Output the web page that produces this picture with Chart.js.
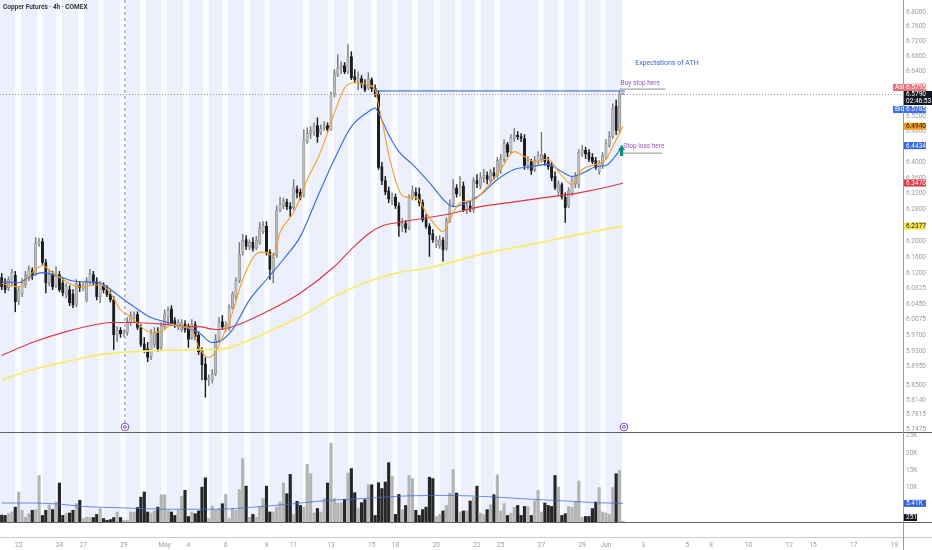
<!DOCTYPE html>
<html>
<head>
<meta charset="utf-8">
<title>Copper Futures 4h</title>
<script src="https://cdn.jsdelivr.net/npm/chart.js@4.4.1/dist/chart.umd.min.js"></script>
<style>
  html, body { margin: 0; padding: 0; background: #fff; }
  canvas { display: block; }
</style>
</head>
<body>
<canvas id="chart" width="932" height="550"></canvas>
<script>
// 4h candles, one per slot (slot = bar index on the time axis)
const opens = [
  6.110, 6.097, 6.085, 6.097, 6.115, 6.050, 6.070, 6.092, 6.107, 6.127,
  6.120, 6.194, 6.199, 6.147, 6.097, 6.117, 6.090, 6.117, 6.097, 6.068,
  6.080, 6.070, 6.043, 6.092, 6.082, 6.055, 6.097, 6.117, 6.100, 6.063,
  6.090, 6.082, 6.070, 6.055, 5.971, 5.981, 5.973, 5.976, 6.000, 6.014,
  6.019, 5.988, 5.949, 5.937, 5.918, 5.947, 5.978, 5.940, 5.990, 6.014,
  6.033, 6.005, 5.990, 5.983, 5.997, 5.988, 5.964, 5.995, 5.969, 5.933,
  5.901, 5.863, 5.863, 5.877, 5.959, 6.002, 5.988, 5.985, 6.036, 6.063,
  6.102, 6.170, 6.204, 6.187, 6.197, 6.184, 6.197, 6.224, 6.237, 6.172,
  6.125, 6.165, 6.279, 6.289, 6.299, 6.287, 6.284, 6.332, 6.324, 6.317,
  6.454, 6.475, 6.478, 6.496, 6.478, 6.490, 6.496, 6.485, 6.577, 6.630,
  6.649, 6.655, 6.638, 6.679, 6.625, 6.614, 6.620, 6.606, 6.595, 6.617,
  6.595, 6.579, 6.389, 6.353, 6.327, 6.302, 6.311, 6.289, 6.237, 6.244,
  6.234, 6.309, 6.324, 6.319, 6.297, 6.257, 6.237, 6.219, 6.192, 6.189,
  6.202, 6.182, 6.252, 6.294, 6.335, 6.319, 6.340, 6.279, 6.289, 6.279,
  6.353, 6.340, 6.361, 6.366, 6.353, 6.374, 6.366, 6.382, 6.408, 6.446,
  6.428, 6.462, 6.470, 6.467, 6.462, 6.392, 6.402, 6.382, 6.402, 6.408,
  6.418, 6.402, 6.389, 6.364, 6.324, 6.343, 6.311, 6.289, 6.322, 6.345,
  6.343, 6.423, 6.431, 6.426, 6.413, 6.405, 6.376, 6.392, 6.413, 6.444,
  6.467, 6.547, 6.483, 6.579
];
const highs = [
  6.120, 6.107, 6.112, 6.130, 6.125, 6.087, 6.107, 6.125, 6.139, 6.134,
  6.209, 6.207, 6.207, 6.155, 6.130, 6.125, 6.137, 6.125, 6.107, 6.095,
  6.090, 6.080, 6.105, 6.100, 6.097, 6.110, 6.130, 6.125, 6.110, 6.100,
  6.097, 6.090, 6.077, 6.063, 5.990, 5.988, 5.983, 6.012, 6.026, 6.026,
  6.026, 5.995, 5.964, 5.952, 5.983, 5.988, 5.988, 6.000, 6.031, 6.038,
  6.041, 6.012, 6.007, 6.007, 6.005, 5.997, 6.007, 6.002, 5.978, 5.940,
  5.916, 5.875, 5.887, 5.971, 6.012, 6.017, 6.002, 6.043, 6.075, 6.110,
  6.197, 6.217, 6.214, 6.204, 6.209, 6.212, 6.247, 6.249, 6.249, 6.179,
  6.170, 6.289, 6.311, 6.309, 6.306, 6.297, 6.356, 6.340, 6.332, 6.485,
  6.490, 6.493, 6.503, 6.516, 6.498, 6.506, 6.503, 6.585, 6.644, 6.684,
  6.665, 6.663, 6.711, 6.692, 6.644, 6.638, 6.628, 6.617, 6.636, 6.622,
  6.603, 6.587, 6.400, 6.364, 6.337, 6.322, 6.319, 6.297, 6.257, 6.252,
  6.317, 6.340, 6.335, 6.335, 6.304, 6.267, 6.244, 6.229, 6.212, 6.214,
  6.209, 6.259, 6.304, 6.356, 6.343, 6.364, 6.350, 6.297, 6.302, 6.361,
  6.369, 6.374, 6.382, 6.376, 6.382, 6.387, 6.413, 6.421, 6.459, 6.452,
  6.472, 6.488, 6.480, 6.475, 6.472, 6.415, 6.408, 6.415, 6.428, 6.478,
  6.423, 6.413, 6.400, 6.376, 6.353, 6.348, 6.322, 6.335, 6.361, 6.374,
  6.433, 6.444, 6.439, 6.433, 6.423, 6.413, 6.405, 6.426, 6.459, 6.480,
  6.553, 6.563, 6.585, 6.582
];
const lows = [
  6.080, 6.072, 6.077, 6.090, 6.026, 6.043, 6.063, 6.085, 6.102, 6.105,
  6.115, 6.187, 6.142, 6.072, 6.090, 6.080, 6.085, 6.075, 6.065, 6.060,
  6.041, 6.036, 6.038, 6.075, 6.077, 6.050, 6.092, 6.092, 6.055, 6.048,
  6.072, 6.063, 6.050, 5.935, 5.954, 5.964, 5.966, 5.969, 5.993, 6.002,
  5.983, 5.942, 5.928, 5.906, 5.911, 5.940, 5.930, 5.935, 5.985, 5.995,
  5.993, 5.988, 5.983, 5.978, 5.976, 5.940, 5.959, 5.959, 5.923, 5.863,
  5.822, 5.849, 5.856, 5.873, 5.954, 5.983, 5.978, 5.981, 6.033, 6.055,
  6.097, 6.165, 6.179, 6.179, 6.175, 6.179, 6.192, 6.219, 6.165, 6.105,
  6.097, 6.160, 6.274, 6.282, 6.279, 6.262, 6.279, 6.309, 6.304, 6.311,
  6.449, 6.462, 6.470, 6.452, 6.472, 6.483, 6.480, 6.483, 6.571, 6.625,
  6.633, 6.633, 6.633, 6.617, 6.609, 6.590, 6.595, 6.585, 6.590, 6.585,
  6.571, 6.382, 6.343, 6.317, 6.297, 6.292, 6.282, 6.212, 6.224, 6.222,
  6.229, 6.304, 6.304, 6.289, 6.249, 6.232, 6.162, 6.197, 6.184, 6.182,
  6.150, 6.177, 6.247, 6.289, 6.311, 6.314, 6.274, 6.269, 6.274, 6.272,
  6.335, 6.332, 6.348, 6.345, 6.348, 6.356, 6.361, 6.371, 6.402, 6.415,
  6.423, 6.454, 6.459, 6.454, 6.382, 6.382, 6.369, 6.376, 6.395, 6.400,
  6.392, 6.382, 6.353, 6.330, 6.317, 6.306, 6.247, 6.284, 6.314, 6.335,
  6.335, 6.415, 6.410, 6.402, 6.397, 6.382, 6.369, 6.384, 6.408, 6.439,
  6.462, 6.472, 6.475, 6.577
];
const closes = [
  6.087, 6.080, 6.105, 6.122, 6.050, 6.080, 6.097, 6.115, 6.130, 6.115,
  6.194, 6.199, 6.147, 6.097, 6.120, 6.087, 6.120, 6.080, 6.072, 6.087,
  6.048, 6.043, 6.095, 6.085, 6.092, 6.102, 6.120, 6.100, 6.063, 6.092,
  6.080, 6.068, 6.055, 5.971, 5.981, 5.973, 5.978, 6.002, 6.017, 6.019,
  5.988, 5.947, 5.935, 5.916, 5.973, 5.976, 5.937, 5.993, 6.021, 6.029,
  5.997, 5.995, 6.000, 6.000, 5.983, 5.959, 5.995, 5.966, 5.930, 5.899,
  5.863, 5.868, 5.877, 5.959, 6.000, 5.990, 5.993, 6.036, 6.070, 6.102,
  6.167, 6.202, 6.187, 6.197, 6.182, 6.202, 6.234, 6.239, 6.172, 6.130,
  6.160, 6.277, 6.292, 6.302, 6.287, 6.282, 6.335, 6.322, 6.311, 6.457,
  6.475, 6.483, 6.493, 6.467, 6.488, 6.496, 6.485, 6.577, 6.633, 6.649,
  6.655, 6.638, 6.676, 6.622, 6.617, 6.620, 6.606, 6.590, 6.620, 6.593,
  6.579, 6.387, 6.353, 6.324, 6.306, 6.311, 6.289, 6.239, 6.244, 6.232,
  6.309, 6.327, 6.314, 6.297, 6.254, 6.237, 6.217, 6.204, 6.202, 6.204,
  6.179, 6.252, 6.294, 6.335, 6.319, 6.335, 6.279, 6.289, 6.282, 6.353,
  6.345, 6.361, 6.366, 6.356, 6.374, 6.366, 6.405, 6.408, 6.449, 6.426,
  6.465, 6.470, 6.467, 6.462, 6.392, 6.405, 6.379, 6.405, 6.418, 6.421,
  6.402, 6.389, 6.361, 6.335, 6.345, 6.311, 6.284, 6.327, 6.353, 6.366,
  6.426, 6.431, 6.421, 6.408, 6.402, 6.387, 6.397, 6.418, 6.449, 6.467,
  6.542, 6.483, 6.579, 6.579
];
// volume in thousands of contracts
const volumes = [
  2.0, 1.9, 2.4, 2.9, 4.3, 8.7, 3.4, 1.4, 2.4, 3.4,
  3.6, 13.5, 1.9, 3.4, 5.0, 3.6, 5.8, 11.3, 1.9, 2.4,
  2.6, 3.4, 5.3, 6.3, 1.0, 1.4, 1.3, 1.3, 2.2, 3.9,
  1.0, 0.5, 0.7, 1.3, 2.9, 1.3, 0.5, 0.5, 2.9, 2.9,
  4.2, 7.2, 8.7, 2.9, 2.6, 3.2, 4.3, 7.9, 7.9, 3.4,
  2.9, 1.9, 3.4, 7.4, 9.2, 1.6, 2.9, 2.4, 3.2, 10.1,
  12.8, 1.0, 4.6, 3.4, 3.9, 5.3, 8.0, 1.0, 3.9, 3.4,
  9.4, 18.4, 10.4, 1.4, 2.2, 1.4, 4.3, 6.8, 10.4, 2.9,
  2.9, 4.3, 5.8, 11.3, 8.2, 13.8, 2.2, 6.0, 4.8, 4.3,
  16.7, 14.0, 2.6, 3.9, 2.9, 6.8, 11.3, 22.9, 6.8, 5.5,
  5.6, 6.6, 14.2, 15.5, 8.5, 3.9, 5.6, 6.5, 10.8, 10.8,
  1.9, 11.4, 9.7, 11.6, 17.2, 13.2, 2.2, 8.0, 3.6, 4.8,
  13.5, 12.6, 3.4, 1.9, 3.6, 4.3, 13.0, 12.6, 1.6, 2.2,
  3.2, 4.8, 8.4, 15.2, 8.4, 2.9, 3.2, 3.2, 6.1, 7.1,
  10.4, 2.6, 2.2, 3.6, 5.0, 7.9, 13.7, 3.2, 5.3, 1.9,
  2.6, 4.3, 4.8, 1.9, 4.5, 4.5, 1.9, 6.1, 9.2, 2.9,
  5.5, 4.8, 4.5, 13.5, 10.1, 1.9, 2.4, 4.5, 4.3, 5.8,
  11.9, 1.4, 1.6, 1.6, 3.9, 5.8, 10.0, 2.9, 2.6, 2.2,
  10.0, 14.0, 15.0, 0.251
];

// moving averages at sample bars
const fastIdx = [0, 5, 9, 12, 15, 19, 23, 29, 32, 35, 38, 41, 44, 47, 50, 53, 56, 58, 61, 63,
  66, 68, 71, 76, 78, 80, 82, 86, 88, 90, 93, 95, 98, 101, 104, 108, 110, 111, 112, 114,
  117, 119, 122, 125, 128, 130, 132, 135, 139, 143, 147, 151, 154, 157, 161, 164, 167, 168, 171, 175,
  178, 180, 183];
const fastVals = [6.095, 6.087, 6.122, 6.139, 6.122, 6.100, 6.087, 6.092, 6.072, 6.031,
  6.014, 5.990, 5.976, 5.978, 5.995, 5.990, 5.983, 5.942, 5.916, 5.930,
  5.983, 6.024, 6.105, 6.172, 6.172, 6.162, 6.222, 6.272, 6.311, 6.356,
  6.408, 6.452, 6.529, 6.595, 6.609, 6.603, 6.590, 6.550, 6.511, 6.421,
  6.330, 6.311, 6.311, 6.272, 6.237, 6.224, 6.254, 6.297, 6.304, 6.337,
  6.382, 6.428, 6.415, 6.402, 6.408, 6.376, 6.348, 6.343, 6.382, 6.395,
  6.408, 6.441, 6.494];
const midIdx = [0, 5, 8, 12, 17, 22, 29, 31, 34, 39, 44, 49, 53, 58, 62, 64, 68, 73, 78, 83,
  88, 93, 98, 103, 108, 110, 111, 114, 117, 121, 126, 131, 133, 137, 141, 146, 151, 156, 161, 165,
  168, 172, 175, 178, 180, 183];
const midVals = [6.100, 6.097, 6.110, 6.122, 6.112, 6.100, 6.097, 6.087, 6.068, 6.038,
  6.012, 6.000, 5.990, 5.976, 5.952, 5.954, 5.983, 6.055, 6.105, 6.155,
  6.212, 6.311, 6.408, 6.493, 6.532, 6.542, 6.529, 6.472, 6.428, 6.395,
  6.348, 6.297, 6.287, 6.297, 6.317, 6.356, 6.382, 6.389, 6.395, 6.376,
  6.364, 6.376, 6.389, 6.392, 6.408, 6.4434];
const slowIdx = [0, 9, 19, 29, 32, 39, 49, 55, 58, 63, 68, 78, 88, 98, 103, 108, 112, 117, 121, 131,
  141, 151, 161, 170, 180, 183];
const slowVals = [5.921, 5.952, 5.978, 5.997, 6.000, 6.000, 5.995, 5.990, 5.990, 5.983,
  5.990, 6.026, 6.072, 6.137, 6.180, 6.218, 6.238, 6.247, 6.253, 6.267,
  6.287, 6.299, 6.311, 6.322, 6.340, 6.347];
const longIdx = [0, 9, 19, 29, 39, 49, 58, 63, 68, 78, 88, 98, 108, 117, 126, 141, 156, 170, 183];
const longVals = [5.863, 5.887, 5.906, 5.923, 5.930, 5.933, 5.935, 5.935, 5.942, 5.976,
  6.014, 6.063, 6.100, 6.122, 6.134, 6.167, 6.192, 6.217, 6.2377];
const volAvgIdx = [0, 10, 18, 24, 36, 48, 60, 67, 74, 84, 93, 102, 108, 120, 132, 144, 156, 168, 175, 183];
const volAvgVals = [5.5, 5.5, 5.1, 4.5, 4.1, 3.7, 3.7, 3.8, 4.3, 5.1, 6.0, 6.6, 6.9, 7.6, 7.7, 7.3, 6.6, 6.0, 5.6, 5.41];

// axes
const totalSlots = 266;
const priceTicks = [6.8, 6.76, 6.72, 6.68, 6.64, 6.6, 6.56, 6.52, 6.48, 6.44, 6.4, 6.36, 6.32, 6.28,
  6.24, 6.2, 6.16, 6.12, 6.0825, 6.045, 6.0075, 5.97, 5.93, 5.895, 5.85, 5.814, 5.7815, 5.7475];
const volumeTicks = [10, 15, 20, 25];
const dateLabels = ['22', '24', '27', '29', 'May', '4', '6', '8', '11', '13', '15', '18', '20',
  '22', '25', '27', '29', 'Jun', '3', '5', '8', '10', '12', '15', '17', '19'];
const dateSlots = [5, 17, 24, 36, 48, 55, 66, 78, 86, 97, 109, 116, 128,
  140, 147, 159, 171, 178, 189, 202, 209, 220, 232, 239, 251, 263];
const sessionBreaks = [4.8, 11.3, 16.9, 23.4, 29.2, 35.7, 41.6, 47.8, 54.3, 60.2, 65.8, 72.3, 78.1,
  89.6, 97, 102.9, 109.7, 115.8, 121.7, 128.2, 134.4, 140.3, 145.9, 158.9, 164.7, 170.9, 177.1];

const askPrice = 6.5795, bidPrice = 6.5785, countdown = '02:46:53';
const lastPrice = closes[closes.length - 1];
const buyStop = 6.587;

const UP = '#bcbcbc', UP_EDGE = '#7c7c7c', DOWN = '#1d1d1d';
const isUp = i => closes[i] >= opens[i];
const pts = (idx, vals) => idx.map((x, k) => ({ x, y: vals[k] }));

const sessionShade = {
  id: 'sessionShade',
  beforeDatasetsDraw(chart) {
    const { ctx, chartArea: a, scales: { x } } = chart;
    const l = x.getPixelForValue(-0.5), r = x.getPixelForValue(closes.length - 1.3);
    ctx.save();
    ctx.fillStyle = '#ebf0fc';
    ctx.fillRect(l, a.top, r - l, a.bottom - a.top);
    ctx.fillStyle = '#fbfcff';
    sessionBreaks.forEach(s => {
      const p = x.getPixelForValue(s);
      ctx.fillRect(p - 3, a.top, 6, a.bottom - a.top);
    });
    ctx.restore();
  }
};

function tag(ctx, xl, yc, w, h, bg, fg, text) {
  ctx.fillStyle = bg;
  ctx.fillRect(xl, yc - h / 2, w, h);
  ctx.fillStyle = fg;
  ctx.fillText(text, xl + 2, yc + 0.3);
}

const overlay = {
  id: 'overlay',
  afterDraw(chart) {
    const { ctx, scales: { x, y, yv } } = chart;
    const W = chart.width, H = chart.height;
    const axisX = Math.round(y.left) + 0.5;
    ctx.save();
    ctx.lineWidth = 1;

    const seg = (x0, y0, x1, y1, color, dash) => {
      ctx.strokeStyle = color;
      ctx.setLineDash(dash || []);
      ctx.beginPath(); ctx.moveTo(x0, y0); ctx.lineTo(x1, y1); ctx.stroke();
    };

    // pane borders
    seg(0, Math.round(y.bottom) + 0.5, W, Math.round(y.bottom) + 0.5, '#5d606b');
    seg(0, Math.round(yv.bottom) + 0.5, W, Math.round(yv.bottom) + 0.5, '#5d606b');
    seg(0, Math.round(yv.bottom) + 15.5, W, Math.round(yv.bottom) + 15.5, '#c9cbd1');
    seg(axisX, 0, axisX, H, '#9598a1');

    // last price dotted line
    const yLast = Math.round(y.getPixelForValue(lastPrice)) + 0.5;
    seg(0, yLast, axisX, yLast, '#9598a1', [1, 2]);

    // session marker
    const xm = x.getPixelForValue(36.3);
    seg(xm, 0, xm, y.bottom - 9, '#7e7fc6', [3, 3]);
    ctx.setLineDash([]);
    [36.3, 183.3].forEach(s => {
      const cx = x.getPixelForValue(s), cy = y.bottom - 5;
      ctx.fillStyle = '#ffffff';
      ctx.strokeStyle = '#7b4fd8';
      ctx.beginPath(); ctx.arc(cx, cy, 3.8, 0, Math.PI * 2); ctx.fill(); ctx.stroke();
      ctx.beginPath(); ctx.arc(cx, cy, 1.4, 0, Math.PI * 2); ctx.stroke();
    });

    // buy stop level
    const yBuy = y.getPixelForValue(buyStop);
    seg(x.getPixelForValue(110.3), yBuy, x.getPixelForValue(183.6), yBuy, '#2f5fe0');
    const yBuyTxt = y.getPixelForValue(6.592);
    seg(x.getPixelForValue(182), yBuyTxt, x.getPixelForValue(195.5), yBuyTxt, '#8c8f99');
    const yStop = y.getPixelForValue(6.424);
    seg(x.getPixelForValue(182.3), yStop, x.getPixelForValue(194.5), yStop, '#8c8f99');

    ctx.textBaseline = 'middle';
    ctx.textAlign = 'left';
    ctx.font = '6.5px Roboto';
    ctx.fillStyle = '#9c4fc9';
    ctx.fillText('Buy stop here', x.getPixelForValue(182.3), y.getPixelForValue(6.607));
    ctx.fillText('Stop loss here', x.getPixelForValue(183.1), y.getPixelForValue(6.441));
    ctx.font = '7px Roboto';
    ctx.fillStyle = '#3d67d6';
    ctx.fillText('Expectations of ATH', x.getPixelForValue(186.6), y.getPixelForValue(6.660));

    // green arrow
    const ax = x.getPixelForValue(182.6), ay = y.getPixelForValue(6.445);
    ctx.fillStyle = '#0e8f7a';
    ctx.beginPath();
    ctx.moveTo(ax, ay); ctx.lineTo(ax + 3.5, ay + 5); ctx.lineTo(ax + 1.6, ay + 5);
    ctx.lineTo(ax + 1.6, ay + 11); ctx.lineTo(ax - 1.6, ay + 11); ctx.lineTo(ax - 1.6, ay + 5);
    ctx.lineTo(ax - 3.5, ay + 5); ctx.closePath(); ctx.fill();

    // title
    ctx.font = '600 6.5px Roboto';
    ctx.fillStyle = '#2a2e39';
    ctx.fillText('Copper Futures · 4h · COMEX', 3, 7.5);

    // price scale tags
    ctx.font = '6.5px Roboto';
    const xl = axisX + 0.5;
    tag(ctx, xl - 11, yLast - 7, 10, 7, '#f0707a', '#fff', 'Ask');
    tag(ctx, xl, yLast - 7, 22, 7, '#f0707a', '#fff', askPrice.toFixed(4));
    ctx.fillStyle = '#131722';
    ctx.fillRect(xl, yLast - 3.5, W - xl, 14);
    ctx.fillStyle = '#fff';
    ctx.fillText(lastPrice.toFixed(4), xl + 2, yLast);
    ctx.fillText(countdown, xl + 2, yLast + 6.8);
    tag(ctx, xl - 11, yLast + 15, 10, 7, '#3d6ef0', '#fff', 'Bid');
    tag(ctx, xl, yLast + 15, 22, 7, '#3d6ef0', '#fff', bidPrice.toFixed(4));
    const maTags = [
      [fastVals, '#f59d17', '#131722'],
      [midVals, '#2f62e8', '#fff'],
      [slowVals, '#e2333f', '#fff'],
      [longVals, '#f6e94c', '#131722']
    ];
    maTags.forEach(([vals, bg, fg]) => {
      const v = vals[vals.length - 1];
      tag(ctx, xl, y.getPixelForValue(v), 22, 7, bg, fg, v.toFixed(4));
    });
    const va = volAvgVals[volAvgVals.length - 1];
    tag(ctx, xl, yv.getPixelForValue(va), 22, 7, '#2f62e8', '#fff', va.toFixed(2) + 'K');
    const vl = volumes[volumes.length - 1];
    tag(ctx, xl, Math.min(yv.getPixelForValue(vl), yv.bottom - 4.5), 13, 7, '#131722', '#fff',
      String(Math.round(vl * 1000)));
    ctx.restore();
  }
};

const tickFont = { size: 6.5, family: 'Roboto' };
// keep the plot area flush with the canvas edges
const noPad = s => { s.paddingTop = 0; s.paddingBottom = 0; s.paddingLeft = 0; s.paddingRight = 0; };

new Chart(document.getElementById('chart'), {
  type: 'bar',
  data: {
    datasets: [
      {
        type: 'line', label: 'EMA fast', data: pts(fastIdx, fastVals), yAxisID: 'y', order: 1,
        borderColor: '#f5a020', borderWidth: 1.1, pointRadius: 0, cubicInterpolationMode: 'monotone'
      },
      {
        type: 'line', label: 'EMA mid', data: pts(midIdx, midVals), yAxisID: 'y', order: 1,
        borderColor: '#3567e6', borderWidth: 1.1, pointRadius: 0, cubicInterpolationMode: 'monotone'
      },
      {
        type: 'line', label: 'EMA slow', data: pts(slowIdx, slowVals), yAxisID: 'y', order: 1,
        borderColor: '#e2353f', borderWidth: 1.1, pointRadius: 0, cubicInterpolationMode: 'monotone'
      },
      {
        type: 'line', label: 'EMA long', data: pts(longIdx, longVals), yAxisID: 'y', order: 1,
        borderColor: '#f7ec6a', borderWidth: 1.7, pointRadius: 0, cubicInterpolationMode: 'monotone'
      },
      {
        label: 'body', data: closes.map((c, i) => ({ x: i, y: [opens[i], c] })), yAxisID: 'y', order: 2,
        grouped: false, barThickness: 2.4, minBarLength: 1, borderSkipped: false,
        backgroundColor: ctx => isUp(ctx.dataIndex) ? UP : DOWN,
        borderColor: ctx => isUp(ctx.dataIndex) ? UP_EDGE : DOWN,
        borderWidth: 0.5
      },
      {
        label: 'wick', data: highs.map((h, i) => ({ x: i, y: [lows[i], h] })), yAxisID: 'y', order: 3,
        grouped: false, barThickness: 0.8, borderWidth: 0,
        backgroundColor: ctx => isUp(ctx.dataIndex) ? '#7c7c7c' : DOWN
      },
      {
        type: 'line', label: 'Vol MA', data: pts(volAvgIdx, volAvgVals), yAxisID: 'yv', order: 1,
        borderColor: 'rgba(60,105,220,0.75)', borderWidth: 1, pointRadius: 0, cubicInterpolationMode: 'monotone'
      },
      {
        label: 'Volume', data: volumes.map((v, i) => ({ x: i, y: v })), yAxisID: 'yv', order: 4,
        grouped: false, barThickness: 2.5, borderWidth: 0,
        backgroundColor: ctx => isUp(ctx.dataIndex) ? '#b4b4b4' : '#262626'
      }
    ]
  },
  options: {
    responsive: false,
    animation: false,
    layout: { padding: 0 },
    plugins: { legend: { display: false }, tooltip: { enabled: false } },
    scales: {
      x: {
        type: 'linear', min: -0.5, max: totalSlots - 0.5, offset: false, bounds: 'data',
        grid: { display: false, drawTicks: false }, border: { display: false },
        ticks: {
          autoSkip: false, maxRotation: 0, padding: 19, font: tickFont, color: '#9a9ca3',
          callback: v => dateLabels[dateSlots.indexOf(v)] ?? ''
        },
        afterBuildTicks: s => { s.ticks = dateSlots.map(v => ({ value: v })); },
        afterFit: s => { s.height = 28; noPad(s); }
      },
      y: {
        type: 'logarithmic', position: 'right', min: 5.741, max: 6.833, bounds: 'data',
        stack: 'pane', stackWeight: 432,
        grid: { display: false, drawTicks: false }, border: { display: false },
        ticks: {
          autoSkip: false, padding: 3, font: tickFont, color: '#9a9ca3',
          callback: v => Number(v).toFixed(4)
        },
        afterBuildTicks: s => { s.ticks = priceTicks.map(v => ({ value: v })); },
        afterFit: s => { s.width = 29; noPad(s); }
      },
      yv: {
        type: 'linear', position: 'right', min: 0, max: 26.1, bounds: 'data',
        stack: 'pane', stackWeight: 90,
        grid: { display: false, drawTicks: false }, border: { display: false },
        ticks: {
          autoSkip: false, padding: 3, font: tickFont, color: '#9a9ca3',
          callback: v => v + 'K'
        },
        afterBuildTicks: s => { s.ticks = volumeTicks.map(v => ({ value: v })); },
        afterFit: s => { s.width = 29; noPad(s); }
      }
    }
  },
  plugins: [sessionShade, overlay]
});
</script>
</body>
</html>
